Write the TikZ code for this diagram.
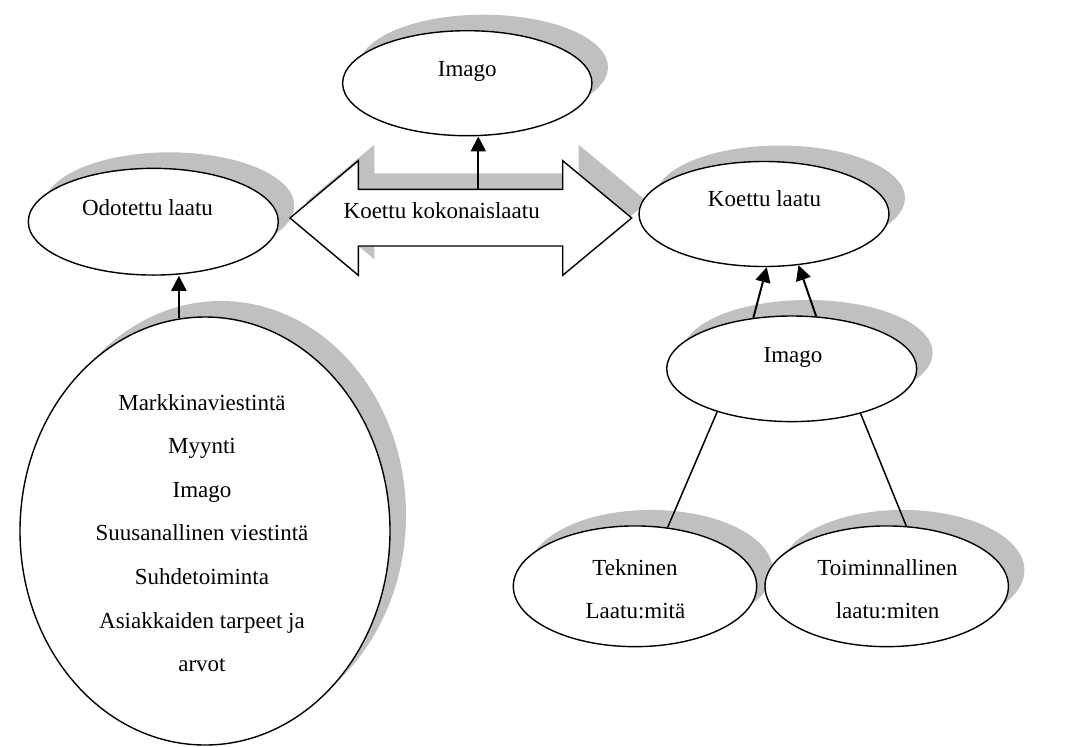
\documentclass[tikz,border=0pt]{standalone}
\usepackage{fontspec}
\setmainfont{Liberation Serif}
\usetikzlibrary{shapes.geometric,shadows,arrows.meta}
\definecolor{shadowgray}{HTML}{C0C0C0}
\begin{document}
\begin{tikzpicture}[x=1pt,y=-1pt,
  bubble/.style={ellipse, draw, line width=1.4pt, fill=white, inner sep=0pt,
     general shadow={fill=shadowgray, shadow xshift=16pt, shadow yshift=16pt}},
  caption/.style={font=\fontsize{23}{27}\selectfont, inner sep=0pt, anchor=base},
  arrowline/.style={line width=2pt, -{Triangle[length=15pt,width=15pt]}},
  plainline/.style={line width=1.5pt},
  bigarrow/.style={draw, line width=1.4pt, fill=white},
]
\useasboundingbox (0,0) rectangle (1071,747);

% expected quality
\node[bubble, minimum width=250pt, minimum height=106.7pt] (odotettu) at (153.3,221.7) {};
\node[caption] (tOdotettu) at (147.5,215) {Odotettu laatu};

% total perceived quality: double arrow with its shadow
\begin{scope}[shift={(16,-16)}]
  \fill[shadowgray] (290,218) -- (358.3,160.7) -- (358.3,189.3) -- (562.7,189.3) -- (562.7,160.7)
    -- (631.7,218) -- (562.7,275.3) -- (562.7,246) -- (358.3,246) -- (358.3,275.3) -- cycle;
\end{scope}
\path[bigarrow] (290,218) -- (358.3,160.7) -- (358.3,189.3) -- (562.7,189.3) -- (562.7,160.7)
    -- (631.7,218) -- (562.7,275.3) -- (562.7,246) -- (358.3,246) -- (358.3,275.3) -- cycle;
\coordinate (shafttop) at (478.3,189.3);
\node[caption] (tKokonais) at (441.7,218.3) {Koettu kokonaislaatu};

% image at the top
\node[bubble, minimum width=249.4pt, minimum height=105pt] (imagoTop) at (467.3,83.2) {};
\node[caption] (tImagoTop) at (467.3,76.7) {Imago};

% perceived quality
\node[bubble, minimum width=250pt, minimum height=105pt] (koettu) at (764,214) {};
\node[caption] (tKoettu) at (764.5,206.7) {Koettu laatu};

% image on the right
\node[bubble, minimum width=250pt, minimum height=105.6pt] (imagoMid) at (791.7,368.8) {};
\node[caption] (tImagoMid) at (793,362.7) {Imago};

% technical and functional quality
\node[bubble, minimum width=243.4pt, minimum height=120.7pt] (tekninen) at (635,586.3) {};
\node[caption] (tTekninen1) at (635,575) {Tekninen};
\node[caption] (tTekninen2) at (635.5,618.3) {Laatu:mitä};

\node[bubble, minimum width=243.4pt, minimum height=120.7pt] (toim) at (886.7,586.3) {};
\node[caption] (tToim1) at (887.5,575) {Toiminnallinen};
\node[caption] (tToim2) at (887.5,618.3) {laatu:miten};

% factors behind expected quality
\node[bubble, minimum width=370pt, minimum height=428pt] (big) at (205,531) {};
\node[font=\fontsize{23}{43.6}\selectfont, align=center, inner sep=0pt] (tBig) at (202,533)
  {Markkinaviestintä\\Myynti\\Imago\\Suusanallinen viestintä\\Suhdetoiminta\\Asiakkaiden tarpeet ja\\arvot};

% connectors
\draw[arrowline] (big.97) -- (big.97 |- odotettu.south);
\draw[arrowline] (shafttop) -- (shafttop |- imagoTop.south);
\draw[arrowline] (imagoMid.127) -- (koettu.-87);
\draw[arrowline] (imagoMid.65) -- (koettu.-56.5);
\draw[plainline] (imagoMid.210.3) -- (tekninen.61.5);
\draw[plainline] (imagoMid.-33.4) -- (toim.72);
\end{tikzpicture}
\end{document}
